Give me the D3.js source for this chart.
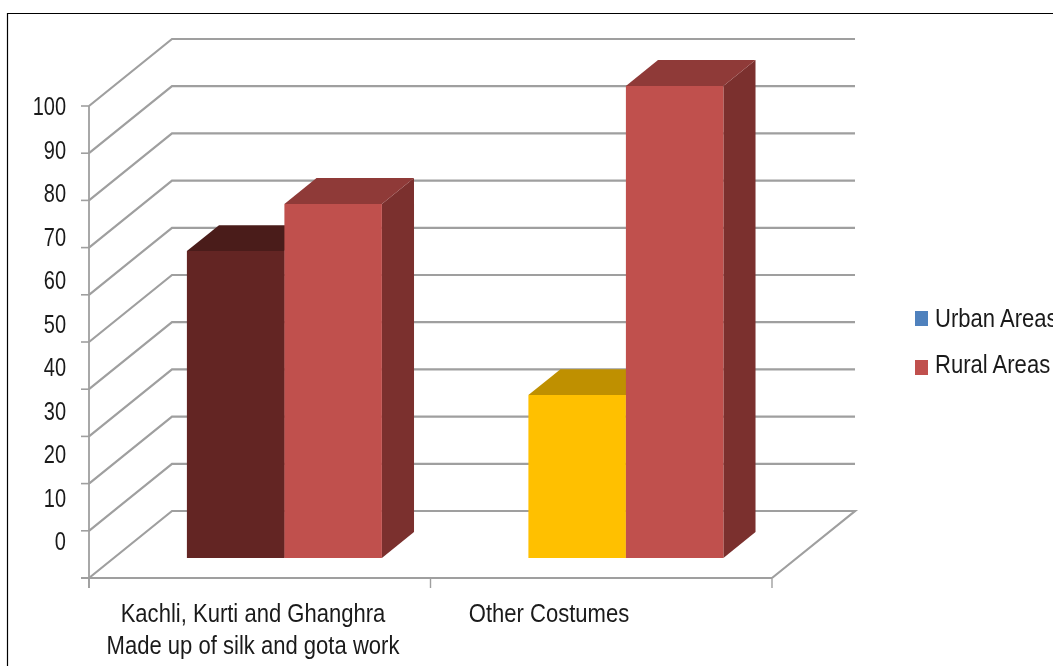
<!DOCTYPE html>
<html><head><meta charset="utf-8">
<script src="https://cdn.jsdelivr.net/npm/d3@7"></script>
<style>html,body{margin:0;padding:0;background:#fff;overflow:hidden}svg{display:block}
text{font-family:"Liberation Sans",Arial,sans-serif;fill:#1a1a1a}</style></head>
<body><div id="c"></div>
<script>
const categories = ["Kachli, Kurti and Ghanghra|Made up of silk and gota work", "Other Costumes"];
const seriesNames = ["Urban Areas", "Rural Areas"];
const urbanValues = [65, 34.5];
const ruralValues = [75, 100];
const tickLabels = [0,10,20,30,40,50,60,70,80,90,100];
const urbanColors = [{f:"#632523",t:"#4a1c1a",s:"#4a1c1a"},{f:"#ffc000",t:"#bf9000",s:"#bf9000"}];
const ruralColor = {f:"#c0504d",t:"#8f3a38",s:"#7b302e"};
const legendColors = ["#4f81bd","#c0504d"];

const W=1053,H=666;
const svg=d3.select("#c").append("svg").attr("width",W).attr("height",H);
const wrap=svg.append("g").style("filter","blur(0.45px)");
wrap.append("path").attr("d",`M7.5,${H+2}V13.5H${W+2}`).attr("fill","none").attr("stroke","#000").attr("stroke-width",1.2);

const x=d3.scaleBand().domain(categories).range([89,772]);
const yBar=d3.scaleLinear().domain([0,100]).range([578,106]);
const labelY=d3.scaleLinear().domain([0,100]).range([541,106]);
const DX=83,DY=-67;
const P=(px,v,z)=>[px+DX*z,yBar(v)+DY*z];
const grid="#9f9f9f";

// walls and gridlines
tickLabels.forEach(t=>{
  const a=P(89,t,0),b=P(89,t,1),c=P(772,t,1);
  wrap.append("path").attr("d",d3.line()(t===0?[a,b,c,P(772,0,0)]:[a,b,c])).attr("fill","none").attr("stroke",grid).attr("stroke-width",2.2);
  wrap.append("line").attr("x1",81).attr("x2",89).attr("y1",a[1]).attr("y2",a[1]).attr("stroke",grid).attr("stroke-width",1.6);
});
wrap.append("line").attr("x1",89).attr("x2",89).attr("y1",yBar(100)).attr("y2",588).attr("stroke",grid).attr("stroke-width",1.8);
wrap.append("line").attr("x1",81).attr("x2",772).attr("y1",578).attr("y2",578).attr("stroke",grid).attr("stroke-width",2.2);
[...categories.map(c=>x(c)),x.range()[1]].forEach(px=>wrap.append("line").attr("x1",px).attr("x2",px).attr("y1",578).attr("y2",588).attr("stroke",grid).attr("stroke-width",1.4));

// value labels
const SX=0.8, SXC=0.882;
tickLabels.forEach(t=>{
  wrap.append("text").attr("transform",`translate(66,${labelY(t)+9}) scale(${SX},1)`).attr("text-anchor","end").attr("font-size",25).text(t);
});

// bars
const Z0=0.3,Z1=0.687,inset=73,bw=97.5;
function bar(px,v,col){
  const l=px,r=px+bw;
  const poly=(pts,fill)=>wrap.append("path").attr("d",d3.line()(pts)+"Z").attr("fill",fill);
  poly([P(r,0,Z0),P(r,0,Z1),P(r,v,Z1),P(r,v,Z0)],col.s);
  poly([P(l,v,Z0),P(l,v,Z1),P(r,v,Z1),P(r,v,Z0)],col.t);
  poly([P(l,0,Z0),P(r,0,Z0),P(r,v,Z0),P(l,v,Z0)],col.f);
}
categories.forEach((c,i)=>{
  bar(x(c)+inset,urbanValues[i],urbanColors[i]);
  bar(x(c)+inset+bw,ruralValues[i],ruralColor);
});

// category labels
const catCx=[253,549];
categories.forEach((c,i)=>{
  c.split("|").forEach((ln,j)=>{
    wrap.append("text").attr("transform",`translate(${catCx[i]},${622+j*32}) scale(${SXC},1)`).attr("text-anchor","middle").attr("font-size",25).text(ln);
  });
});

// legend
seriesNames.forEach((s,i)=>{
  const ty=[327,373][i];
  wrap.append("rect").attr("x",915).attr("y",[311,360][i]).attr("width",13).attr("height",15).attr("fill",legendColors[i]);
  wrap.append("text").attr("transform",`translate(935,${ty}) scale(${SXC},1)`).attr("font-size",25).text(s);
});
</script></body></html>
